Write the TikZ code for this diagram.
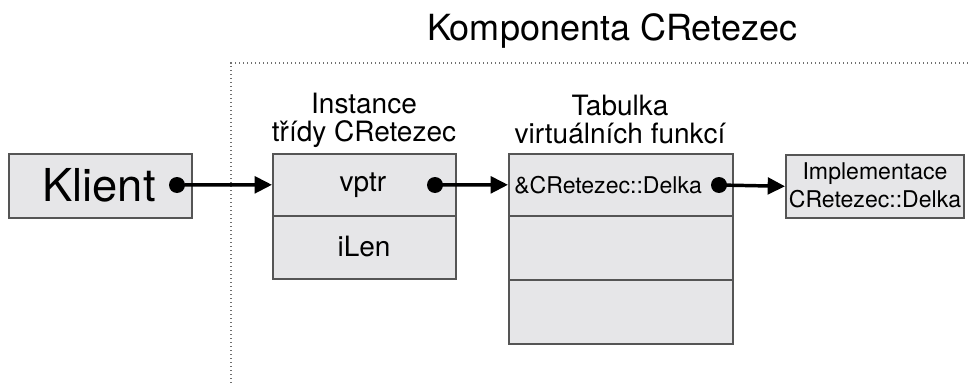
\documentclass[tikz,border=0pt]{standalone}
\usepackage{fontspec}
\setmainfont{TeX Gyre Heros}
\usetikzlibrary{arrows.meta}
\definecolor{boxfill}{HTML}{E6E6E8}
\definecolor{boxline}{HTML}{555555}
\definecolor{dotline}{HTML}{707070}
\begin{document}
\begin{tikzpicture}[x=0.75pt,y=-0.75pt,
  cell/.style={draw=boxline,fill=boxfill,line width=1.2pt,inner sep=0pt,anchor=north west},
  lbl/.style={font=\fontsize{21}{22}\selectfont,inner sep=0pt},
  small/.style={font=\fontsize{17.3}{21}\selectfont,inner sep=0pt,align=center},
  link/.style={line width=2.6pt,-{Triangle[length=13pt,width=12.5pt]}},
  pin/.style={fill=black},
  frame/.style={draw=dotline,line width=1pt,dotted}]
\useasboundingbox (0,0) rectangle (968,385);
% title
\node[font=\fontsize{27}{30}\selectfont,inner sep=0pt] (title) at (612,31) {Komponenta CRetezec};
% dotted frame
\coordinate (ftop) at (968,63);
\coordinate (fcorner) at (231,63);
\coordinate (fbot) at (231,385);
\draw[frame] (ftop) -- (fcorner) -- (fbot);
% Klient
\node[cell,minimum width=183*0.75pt,minimum height=64*0.75pt] (klient) at (8,153) {};
\node[font=\fontsize{34}{36}\selectfont,inner sep=0pt] (klientt) at (99,185) {Klient};
\coordinate (kdot) at (177,185);
% Instance
\node[lbl,align=center] (instl) at (364,120) {Instance\\[-1pt]třídy CRetezec};
\node[cell,minimum width=183*0.75pt,minimum height=62*0.75pt] (inst1) at (272,153) {};
\node[cell,minimum width=183*0.75pt,minimum height=63*0.75pt] (inst2) at (272,215) {};
\node[lbl] (vptr) at (363,185) {vptr};
\node[lbl] (ilen) at (364,247) {iLen};
\coordinate (vdot) at (435,185);
% Tabulka
\node[lbl,align=center] (tabl) at (620,120) {Tabulka\\[-1pt]virtuálních funkcí};
\node[cell,minimum width=224*0.75pt,minimum height=62*0.75pt] (tab1) at (508,153) {};
\node[cell,minimum width=224*0.75pt,minimum height=64*0.75pt] (tab2) at (508,215) {};
\node[cell,minimum width=224*0.75pt,minimum height=64*0.75pt] (tab3) at (508,279) {};
\node[small,anchor=west] (tabt) at (514,185) {\&CRetezec::Delka};
\coordinate (tdot) at (719,185);
% Implementation
\node[cell,minimum width=178*0.75pt,minimum height=63*0.75pt] (impl) at (785,154) {};
\node[small] (implt) at (875,185.5) {Implementace\\CRetezec::Delka};
% pins and links
\fill[pin] (kdot) circle (8);
\fill[pin] (vdot) circle (8);
\fill[pin] (tdot) circle (8);
\draw[link] (kdot) -- (inst1.west);
\draw[link] (vdot) -- (tab1.west);
\draw[link] (tdot) -- (impl.west);
\end{tikzpicture}
\end{document}
